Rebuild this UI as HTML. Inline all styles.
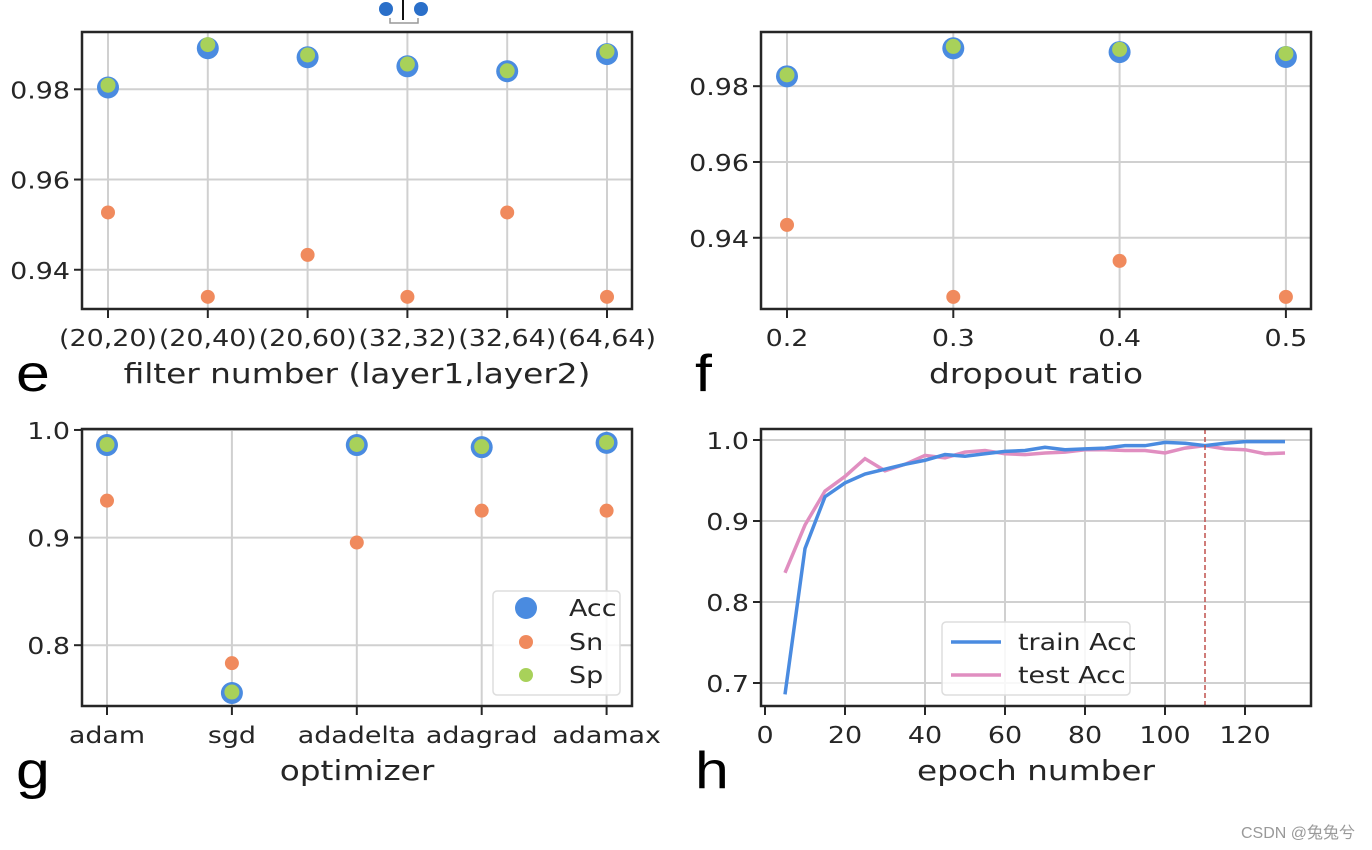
<!DOCTYPE html>
<html><head><meta charset="utf-8"><style>
html,body{margin:0;padding:0;background:#fff;width:1372px;height:850px;overflow:hidden}
svg{display:block}
text{font-family:"DejaVu Sans","Liberation Sans",sans-serif;fill:#262626}
</style></head><body>
<svg id="fig" width="1372" height="850" viewBox="0 0 1372 850">
<g>
<circle cx="386" cy="9" r="7" fill="#2a6fc9"/><circle cx="421" cy="9" r="7" fill="#2a6fc9"/>
<line x1="403" y1="0" x2="403" y2="20" stroke="#111" stroke-width="2"/>
<path d="M390 18 V23 H418 V18" fill="none" stroke="#999" stroke-width="1.5"/>
</g>
<text x="1355" y="838" text-anchor="end" style="font-family:'Liberation Sans','Noto Sans CJK SC',sans-serif;font-size:16px;fill:#999">CSDN @兔兔兮</text>
</svg>
<script>
// Panel e
const eCats=["(20,20)","(20,40)","(20,60)","(32,32)","(32,64)","(64,64)"];
const eAcc=[0.9804,0.9891,0.9871,0.9851,0.9840,0.9878];
const eSn=[0.9527,0.9340,0.9433,0.9340,0.9527,0.9340];
const eSp=[0.9809,0.9899,0.9876,0.9856,0.9841,0.9884];
const eTicks=[0.94,0.96,0.98];
// Panel f
const fCats=["0.2","0.3","0.4","0.5"];
const fAcc=[0.9826,0.9900,0.9890,0.9877];
const fSn=[0.9434,0.9244,0.9339,0.9244];
const fSp=[0.9830,0.9905,0.9897,0.9886];
const fTicks=[0.94,0.96,0.98];
// Panel g
const gCats=["adam","sgd","adadelta","adagrad","adamax"];
const gAcc=[0.986,0.7556,0.986,0.984,0.988];
const gSn=[0.9343,0.7833,0.8954,0.925,0.925];
const gSp=[0.9865,0.7565,0.9865,0.9845,0.9885];
const gTicks=[0.8,0.9,1.0];
// Panel h
const hEpochs=[5,10,15,20,25,30,35,40,45,50,55,60,65,70,75,80,85,90,95,100,105,110,115,120,125,130];
const hTrain=[0.686,0.866,0.930,0.947,0.958,0.964,0.970,0.975,0.982,0.980,0.983,0.986,0.987,0.991,0.988,0.989,0.990,0.993,0.993,0.997,0.996,0.993,0.996,0.998,0.998,0.998];
const hTest=[0.836,0.895,0.937,0.955,0.977,0.962,0.970,0.981,0.978,0.985,0.987,0.983,0.982,0.984,0.985,0.988,0.988,0.987,0.987,0.984,0.990,0.993,0.989,0.988,0.983,0.984];
const hXTicks=[0,20,40,60,80,100,120];
const hYTicks=[0.7,0.8,0.9,1.0];
const hBest=110;

const NS="http://www.w3.org/2000/svg";
const svg=document.getElementById('fig');
const SX=1.17;
function mk(tag,attrs,parent,txt){const e=document.createElementNS(NS,tag);for(const k in attrs)e.setAttribute(k,attrs[k]);if(txt!==undefined)e.textContent=txt;(parent||svg).appendChild(e);return e;}
function txt(x,y,anchor,size,parent,s,style){
  const a={x:0,y:0,"text-anchor":anchor,"font-size":size,transform:`translate(${x},${y}) scale(${SX},1)`};
  if(style)a.style=style;
  return mk('text',a,parent,s);
}
const C={acc:"#4a8be0",sn:"#f08a5d",sp:"#a8d15a",grid:"#d0d0d0",ax:"#262626"};

function frame(g,L,T,R,B){
  const r=mk('rect',{x:L,y:T,width:R-L,height:B-T,fill:"none",stroke:C.ax,"stroke-width":2.5},g);
  
  
}
function catPanel(id,letter,L,T,R,B,cats,x0,dx,ymin,ymax,ticks,fmt,acc,sn,sp,xlabel){
  const g=mk('g',{});
  
  
  const X=i=>x0+i*dx;
  const Y=v=>B-(v-ymin)/(ymax-ymin)*(B-T);
  ticks.forEach(t=>{
    const l=mk('line',{x1:L,x2:R,y1:Y(t),y2:Y(t),stroke:C.grid,"stroke-width":2},g);
    
    
    mk('line',{x1:L-8,x2:L,y1:Y(t),y2:Y(t),stroke:C.ax,"stroke-width":2},g);
    const tx=txt(L-12,Y(t)+9,"end",23,g,fmt(t));
    
    
  });
  cats.forEach((c,i)=>{
    const l=mk('line',{x1:X(i),x2:X(i),y1:T,y2:B,stroke:C.grid,"stroke-width":2},g);
    
    
    mk('line',{x1:X(i),x2:X(i),y1:B,y2:B+9,stroke:C.ax,"stroke-width":2},g);
    const tx=txt(X(i),B+37,"middle",23,g,c);
    
    
  });
  acc.forEach((v,i)=>{const p=mk('circle',{cx:X(i),cy:Y(v),r:11,fill:C.acc},g);
    
    });
  sn.forEach((v,i)=>{const p=mk('circle',{cx:X(i),cy:Y(v),r:7,fill:C.sn},g);
    
    });
  sp.forEach((v,i)=>{const p=mk('circle',{cx:X(i),cy:Y(v),r:7.5,fill:C.sp},g);
    
    });
  frame(g,L,T,R,B);
  const xl=txt((L+R)/2,B+74,"middle",28,g,xlabel);
  
  
  const pl=txt(L-66,B+82,"start",52,g,letter,"fill:#000;font-family:'Liberation Sans',sans-serif");
  
  
  return {g,X,Y};
}
catPanel('e','e',82,32,632,309,eCats,108,99.8,0.9313,0.9927,eTicks,t=>t.toFixed(2),eAcc,eSn,eSp,"filter number (layer1,layer2)");
catPanel('f','f',761,32,1311,309,fCats,787,166.3,0.9212,0.9943,fTicks,t=>t.toFixed(2),fAcc,fSn,fSp,"dropout ratio");
catPanel('g','g',82,429,632,706,gCats,107,124.9,0.7435,1.0009,gTicks,t=>t.toFixed(1),gAcc,gSn,gSp,"optimizer");

// legend g
(function(){
  const g=mk('g',{});
  
  
  mk('rect',{x:493,y:591,width:127,height:104,rx:4,fill:"#fff","fill-opacity":0.85,stroke:"#ddd","stroke-width":1.5},g);
  const items=[["Acc",C.acc,11,608],["Sn",C.sn,7,642],["Sp",C.sp,7,675]];
  items.forEach(it=>{
    const e=mk('g',{},g);
    
    
    mk('circle',{cx:526,cy:it[3],r:it[2],fill:it[1]},e);
    txt(569,it[3]+8,"start",23,e,it[0]);
  });
})();

// Panel h
(function(){
  const L=761,T=429,R=1311,B=706;
  const g=mk('g',{});
  
  
  const X=v=>765+v*4.0;
  const Y=v=>440+(1.0-v)*810;
  hYTicks.forEach(t=>{
    const l=mk('line',{x1:L,x2:R,y1:Y(t),y2:Y(t),stroke:C.grid,"stroke-width":2},g);
    
    
    mk('line',{x1:L-8,x2:L,y1:Y(t),y2:Y(t),stroke:C.ax,"stroke-width":2},g);
    const tx=txt(L-12,Y(t)+9,"end",23,g,t.toFixed(1));
    
    
  });
  hXTicks.forEach(t=>{
    if(t>0){const l=mk('line',{x1:X(t),x2:X(t),y1:T,y2:B,stroke:C.grid,"stroke-width":2},g);
      
      }
    mk('line',{x1:X(t),x2:X(t),y1:B,y2:B+9,stroke:C.ax,"stroke-width":2},g);
    const tx=txt(X(t),B+37,"middle",23,g,String(t));
    
    
  });
  const d1=hEpochs.map((e,i)=>(i?'L':'M')+X(e)+' '+Y(hTrain[i])).join(' ');
  const d2=hEpochs.map((e,i)=>(i?'L':'M')+X(e)+' '+Y(hTest[i])).join(' ');
  const p2=mk('path',{d:d2,fill:"none",stroke:"#e08ec0","stroke-width":3.5},g);
  
  
  const p1=mk('path',{d:d1,fill:"none",stroke:"#4a8be0","stroke-width":3.5},g);
  
  
  const vl=mk('line',{x1:X(hBest),x2:X(hBest),y1:T,y2:B,stroke:"#c0504d","stroke-width":1.5,"stroke-dasharray":"5,3"},g);
  
  
  frame(g,L,T,R,B);
  const lg=mk('g',{},g);
  
  
  mk('rect',{x:942,y:622,width:188,height:73,rx:4,fill:"#fff","fill-opacity":0.85,stroke:"#ddd","stroke-width":1.5},lg);
  [["train Acc","#4a8be0",642],["test Acc","#e08ec0",675]].forEach(it=>{
    const e=mk('g',{},lg);
    
    
    mk('line',{x1:951,x2:1001,y1:it[2],y2:it[2],stroke:it[1],"stroke-width":3.5},e);
    txt(1018,it[2]+8,"start",23,e,it[0]);
  });
  const xl=txt((L+R)/2,B+74,"middle",28,g,"epoch number");
  
  
  const pl=txt(L-66,B+82,"start",52,g,"h","fill:#000;font-family:'Liberation Sans',sans-serif");
  
  
})();
</script>
</body></html>
